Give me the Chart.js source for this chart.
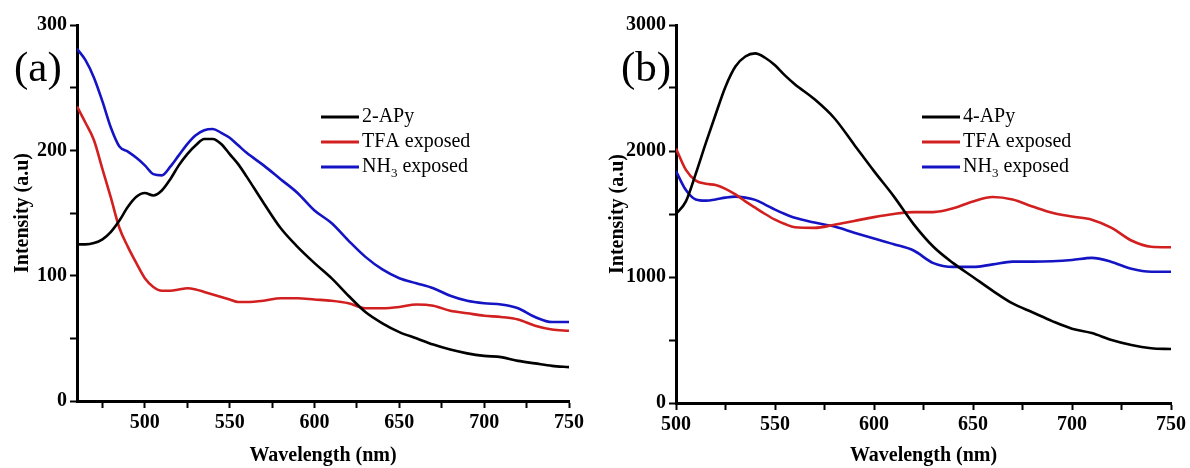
<!DOCTYPE html>
<html>
<head>
<meta charset="utf-8">
<script src="https://cdn.jsdelivr.net/npm/chart.js@4.4.1/dist/chart.umd.min.js"></script>
<style>
  html, body { margin: 0; padding: 0; background: #fff; }
  .panel { position: absolute; top: 0; width: 595px; height: 468px; }
</style>
</head>
<body>
<div class="panel" style="left:0"><canvas id="chartA" width="595" height="468"></canvas></div>
<div class="panel" style="left:595px"><canvas id="chartB" width="595" height="468"></canvas></div>
<script>
// panel (a)
const wavelengthA = [460, 465, 470, 475, 480, 485, 490, 495, 500, 505, 510, 515, 520, 525, 530, 535, 540, 545, 550, 555,
  560, 570, 580, 590, 600, 610, 620, 630, 640, 650, 660, 670, 680, 690, 700, 710, 720, 730, 740, 750];
const apy2 = [125, 125, 126, 129, 135, 144, 155, 163, 166, 164, 168, 177, 188, 197, 204, 209, 209, 205, 197, 189,
  179, 158, 138, 123, 110, 98, 84, 71, 62, 55, 50, 45, 41, 38, 36, 35, 32, 30, 28, 27];
const tfaA = [235, 222, 208, 185, 162, 138, 123, 110, 98, 91, 88, 88, 89, 90, 89, 87, 85, 83, 81, 79,
  79, 80, 82, 82, 81, 80, 78, 74, 74, 75, 77, 76, 72, 70, 68, 67, 65, 60, 57, 56];
const nh3A = [281, 272, 258, 239, 218, 203, 199, 194, 188, 181, 180, 187, 196, 205, 212, 216, 217, 214, 210, 204,
  198, 188, 177, 166, 152, 142, 128, 115, 105, 98, 94, 90, 84, 80, 78, 77, 74, 67, 63, 63];

// panel (b)
const wavelengthB = [500, 505, 510, 515, 520, 525, 530, 535, 540, 545, 550, 555, 560, 570, 580, 590, 600, 610, 620, 630,
  640, 650, 660, 670, 680, 690, 700, 710, 720, 730, 740, 750];
const apy4 = [1500, 1600, 1820, 2060, 2290, 2510, 2670, 2750, 2775, 2740, 2680, 2600, 2530, 2410, 2260, 2050, 1840, 1640, 1420, 1240,
  1110, 1000, 890, 790, 720, 650, 590, 555, 500, 460, 435, 428];
const tfaB = [2020, 1850, 1765, 1740, 1730, 1700, 1655, 1600, 1550, 1500, 1455, 1420, 1395, 1390, 1415, 1445, 1475, 1500, 1515, 1515,
  1545, 1600, 1635, 1615, 1560, 1510, 1480, 1455, 1390, 1290, 1240, 1236];
const nh3B = [1840, 1690, 1615, 1606, 1615, 1630, 1638, 1630, 1612, 1575, 1535, 1500, 1470, 1432, 1400, 1352, 1305, 1260, 1210, 1110,
  1080, 1080, 1100, 1122, 1122, 1125, 1135, 1152, 1120, 1065, 1042, 1042];

const xTicksA = [475, 500, 525, 550, 575, 600, 625, 650, 675, 700, 725, 750];
const xTicksB = [500, 525, 550, 575, 600, 625, 650, 675, 700, 725, 750];
const yTicksA = [0, 50, 100, 150, 200, 250, 300];
const yTicksB = [0, 500, 1000, 1500, 2000, 2500, 3000];

const serif = "'Liberation Serif', 'Times New Roman', serif";
const RED = '#d21f1f';
const BLUE = '#1414c4';

const subDigits = '₀₁₂₃₄₅₆₇₈₉';

function drawLabel(ctx, text, x, y) {
  let cx = x;
  for (const ch of text) {
    const k = subDigits.indexOf(ch);
    if (k >= 0) {
      ctx.font = '13px ' + serif;
      ctx.fillText(String(k), cx, y + 7);
      cx += ctx.measureText(String(k)).width;
    } else {
      ctx.font = '20px ' + serif;
      ctx.fillText(ch, cx, y);
      cx += ctx.measureText(ch).width;
    }
  }
}

const lineLegend = {
  id: 'lineLegend',
  afterDraw(chart, args, opts) {
    const ctx = chart.ctx;
    ctx.save();
    ctx.textBaseline = 'middle';
    ctx.fillStyle = '#000';
    chart.data.datasets.forEach((ds, i) => {
      const y = opts.y + i * opts.rowGap;
      ctx.strokeStyle = ds.borderColor;
      ctx.lineWidth = 3;
      ctx.beginPath();
      ctx.moveTo(opts.x, y);
      ctx.lineTo(opts.x + opts.lineLen, y);
      ctx.stroke();
      drawLabel(ctx, ds.label, opts.x + opts.lineLen + 3, y);
    });
    ctx.restore();
  }
};

const panelTag = {
  id: 'panelTag',
  afterDraw(chart, args, opts) {
    const ctx = chart.ctx;
    ctx.save();
    ctx.font = '43px ' + serif;
    ctx.fillStyle = '#000';
    ctx.textBaseline = 'middle';
    ctx.fillText(opts.text, opts.x, opts.y);
    ctx.restore();
  }
};

function makeChart(id, cfg) {
  const tickFont = { family: serif, size: 20, weight: 'bold' };
  return new Chart(document.getElementById(id), {
    type: 'line',
    data: {
      datasets: cfg.series.map(s => ({
        label: s.label,
        data: cfg.x.map((w, i) => ({ x: w, y: s.values[i] })),
        borderColor: s.color,
        borderWidth: 2.6,
        pointRadius: 0,
        cubicInterpolationMode: 'monotone',
        fill: false
      }))
    },
    options: {
      responsive: false,
      animation: false,
      layout: { padding: { left: 0, top: 25, right: cfg.padRight, bottom: 0 } },
      plugins: {
        legend: { display: false },
        tooltip: { enabled: false },
        lineLegend: { x: cfg.legendX, y: 117, rowGap: 25, lineLen: 38 },
        panelTag: { text: cfg.tag, x: cfg.tagX, y: 70 }
      },
      scales: {
        x: {
          type: 'linear',
          min: cfg.xMin,
          max: 750,
          afterBuildTicks: s => { s.ticks = cfg.xTicks.map(v => ({ value: v })); },
          afterFit: s => { s.height = cfg.xAxisHeight; },
          border: { display: true, color: '#000', width: 3 },
          grid: { drawOnChartArea: false, drawTicks: true, tickLength: 7, tickColor: '#000', tickWidth: 2 },
          ticks: {
            color: '#000',
            font: tickFont,
            maxRotation: 0,
            autoSkip: false,
            padding: 3,
            callback: v => (v % 50 === 0 ? v : '')
          },
          title: {
            display: true,
            text: 'Wavelength (nm)',
            color: '#000',
            font: { family: serif, size: 20, weight: 'bold' },
            padding: { top: 0, bottom: 0 }
          }
        },
        y: {
          min: 0,
          max: cfg.yMax,
          afterBuildTicks: s => { s.ticks = cfg.yTicks.map(v => ({ value: v })); },
          afterFit: s => { s.width = cfg.yAxisWidth; },
          border: { display: true, color: '#000', width: 3 },
          grid: { drawOnChartArea: false, drawTicks: true, tickLength: 7, tickColor: '#000', tickWidth: 2 },
          ticks: {
            color: '#000',
            font: tickFont,
            autoSkip: false,
            padding: 3,
            callback: v => (v % cfg.yLabelStep === 0 ? v : '')
          },
          title: {
            display: true,
            text: 'Intensity (a.u)',
            color: '#000',
            font: { family: serif, size: 20, weight: 'bold' },
            padding: { top: 11, bottom: 0 }
          }
        }
      }
    },
    plugins: [lineLegend, panelTag]
  });
}

makeChart('chartA', {
  x: wavelengthA,
  series: [
    { label: '2-APy', values: apy2, color: '#000' },
    { label: 'TFA exposed', values: tfaA, color: RED },
    { label: 'NH₃ exposed', values: nh3A, color: BLUE }
  ],
  xMin: 460, xTicks: xTicksA, yTicks: yTicksA, yMax: 300, yLabelStep: 100,
  yAxisWidth: 77, xAxisHeight: 67, padRight: 26,
  legendX: 321, tag: '(a)', tagX: 14
});

makeChart('chartB', {
  x: wavelengthB,
  series: [
    { label: '4-APy', values: apy4, color: '#000' },
    { label: 'TFA exposed', values: tfaB, color: RED },
    { label: 'NH₃ exposed', values: nh3B, color: BLUE }
  ],
  xMin: 500, xTicks: xTicksB, yTicks: yTicksB, yMax: 3000, yLabelStep: 1000,
  yAxisWidth: 81, xAxisHeight: 65, padRight: 19,
  legendX: 327, tag: '(b)', tagX: 26
});
</script>
</body>
</html>
